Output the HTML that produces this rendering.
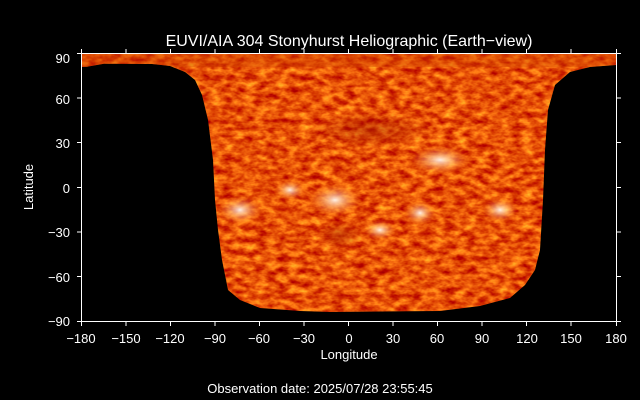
<!DOCTYPE html>
<html><head><meta charset="utf-8"><style>
html,body{margin:0;padding:0;background:#000;width:640px;height:400px;overflow:hidden}
svg text{font-family:"Liberation Sans",sans-serif;fill:#fff}
</style></head><body>
<svg width="640" height="400" viewBox="0 0 640 400" xmlns="http://www.w3.org/2000/svg">
<defs>
<filter id="n" x="0" y="0" width="1" height="1" color-interpolation-filters="sRGB">
<feTurbulence type="fractalNoise" baseFrequency="0.09 0.16" numOctaves="3" seed="7"/>
<feColorMatrix type="matrix" values="0.6 0 0 0 0.6  1.0 0 0 0 -0.18  0.3 0 0 0 -0.12  0 0 0 0 1"/>
</filter>
<clipPath id="c">
<path d="M81,53 L616,53 L616,65 L590,67 L570,72 L555,85 L548,110 L545,150 L543,200 L540,250 L535,270 L525,285 L510,298 L480,306 L440,311 L330,312 L300,311 L260,308 L240,300 L228,290 L222,260 L218,230 L215,200 L213,160 L208,120 L202,95 L195,80 L185,72 L170,66 L152,64 L104,63.7 L87,66.7 L81,67 Z"/>
</clipPath>
<radialGradient id="w"><stop offset="0" stop-color="#fff" stop-opacity="0.9"/><stop offset="0.5" stop-color="#ffc080" stop-opacity="0.5"/><stop offset="1" stop-color="#ff8020" stop-opacity="0"/></radialGradient>
<radialGradient id="d"><stop offset="0" stop-color="#a01800" stop-opacity="0.5"/><stop offset="1" stop-color="#a01800" stop-opacity="0"/></radialGradient>
</defs>
<g clip-path="url(#c)">
<rect x="81" y="53" width="535" height="268" filter="url(#n)"/>
<ellipse cx="240" cy="210" rx="22" ry="14" fill="url(#w)"/>
<ellipse cx="335" cy="200" rx="26" ry="16" fill="url(#w)"/>
<ellipse cx="380" cy="230" rx="16" ry="10" fill="url(#w)"/>
<ellipse cx="420" cy="213" rx="16" ry="12" fill="url(#w)"/>
<ellipse cx="500" cy="210" rx="18" ry="12" fill="url(#w)"/>
<ellipse cx="440" cy="160" rx="30" ry="14" fill="url(#w)"/>
<ellipse cx="290" cy="190" rx="15" ry="10" fill="url(#w)"/>
<ellipse cx="340" cy="235" rx="22" ry="14" fill="url(#d)"/>
<ellipse cx="370" cy="130" rx="60" ry="18" fill="url(#d)"/>
<rect x="81" y="53" width="535" height="14" fill="#d04000" opacity="0.4"/>
</g>
<g stroke="#fff" stroke-width="1" fill="none">
<rect x="81.5" y="53.5" width="535" height="268"/>
<path d="M81.5,53v-4M126,53v-4M170.5,53v-4M215,53v-4M259.5,53v-4M304,53v-4M348.5,53v-4M393,53v-4M437.5,53v-4M482,53v-4M526.5,53v-4M571,53v-4M616.5,53v-4"/>
<path d="M81.5,322v4M126,322v4M170.5,322v4M215,322v4M259.5,322v4M304,322v4M348.5,322v4M393,322v4M437.5,322v4M482,322v4M526.5,322v4M571,322v4M616.5,322v4"/>
<path d="M81,53.5h-4M81,98h-4M81,142.5h-4M81,187.5h-4M81,232h-4M81,276.5h-4M81,321.5h-4"/>
<path d="M617,53.5h4M617,98h4M617,142.5h4M617,187.5h4M617,232h4M617,276.5h4M617,321.5h4"/>
</g>
<text x="349" y="46" font-size="16" text-anchor="middle">EUVI/AIA 304 Stonyhurst Heliographic (Earth−view)</text>
<g font-size="13" text-anchor="end">
<text x="70" y="63">90</text><text x="70" y="104">60</text><text x="70" y="148">30</text><text x="70" y="193">0</text><text x="70" y="237">−30</text><text x="70" y="282">−60</text><text x="70" y="326">−90</text>
</g>
<g font-size="13" text-anchor="middle">
<text x="81" y="343">−180</text><text x="126" y="343">−150</text><text x="170" y="343">−120</text><text x="215" y="343">−90</text><text x="259" y="343">−60</text><text x="304" y="343">−30</text><text x="349" y="343">0</text><text x="393" y="343">30</text><text x="437" y="343">60</text><text x="482" y="343">90</text><text x="527" y="343">120</text><text x="571" y="343">150</text><text x="616" y="343">180</text>
</g>
<text x="349" y="359" font-size="13" text-anchor="middle">Longitude</text>
<text x="0" y="0" font-size="13" text-anchor="middle" transform="translate(33,187) rotate(-90)">Latitude</text>
<text x="320" y="393" font-size="13" text-anchor="middle">Observation date: 2025/07/28 23:55:45</text>
</svg>
</body></html>
